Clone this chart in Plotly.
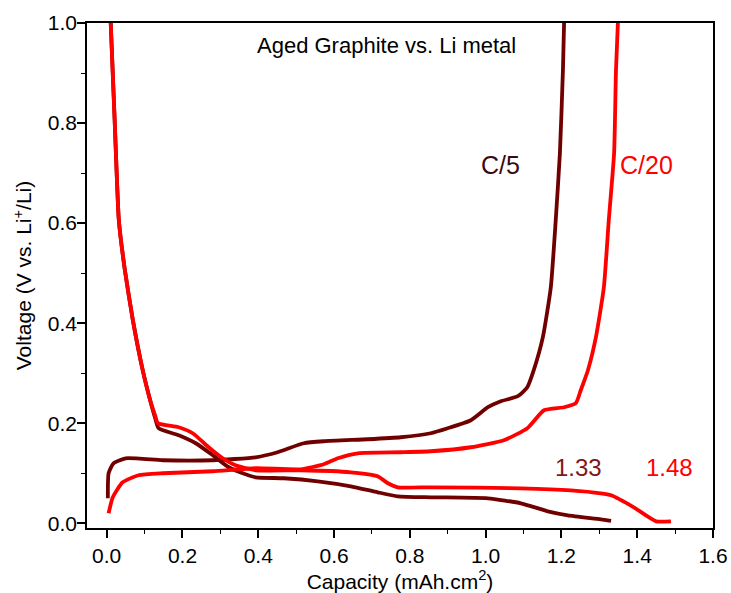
import plotly.graph_objects as go

# C/5 delithiation (charge)
c5_charge_x = [0.003, 0.005, 0.018, 0.05, 0.148, 0.28, 0.393, 0.451, 0.52, 0.573, 0.689, 0.776, 0.855,
               0.9, 0.961, 1.006, 1.04, 1.085, 1.11, 1.127, 1.151, 1.172, 1.185, 1.196, 1.204, 1.207]
c5_charge_y = [0.05, 0.10, 0.12, 0.13, 0.126, 0.126, 0.132, 0.142, 0.16, 0.164, 0.168, 0.172, 0.18,
               0.19, 0.206, 0.232, 0.244, 0.254, 0.272, 0.306, 0.372, 0.472, 0.606, 0.74, 0.906, 1.0]
# C/5 lithiation (discharge)
c5_dis_x = [0.0106, 0.021, 0.026, 0.032, 0.048, 0.069, 0.095, 0.115, 0.128, 0.137, 0.19, 0.235, 0.28,
            0.322, 0.359, 0.393, 0.467, 0.557, 0.644, 0.715, 0.768, 0.855, 1.006, 1.093, 1.164, 1.217,
            1.304, 1.331]
c5_dis_y = [1.0, 0.806, 0.706, 0.606, 0.506, 0.406, 0.306, 0.245, 0.21, 0.19, 0.176, 0.16, 0.136,
            0.112, 0.10, 0.092, 0.09, 0.084, 0.074, 0.062, 0.054, 0.052, 0.05, 0.04, 0.024, 0.016,
            0.008, 0.005]
# C/20 lithiation (discharge)
c20_dis_x = [0.0106, 0.021, 0.026, 0.032, 0.048, 0.069, 0.095, 0.115, 0.128, 0.135, 0.19, 0.227, 0.269,
             0.306, 0.34, 0.393, 0.512, 0.644, 0.715, 0.742, 0.768, 0.855, 1.093, 1.225, 1.304, 1.331,
             1.391, 1.45, 1.489]
c20_dis_y = [1.0, 0.806, 0.706, 0.606, 0.506, 0.406, 0.306, 0.245, 0.215, 0.2, 0.192, 0.18, 0.152,
             0.13, 0.116, 0.106, 0.106, 0.102, 0.094, 0.08, 0.072, 0.072, 0.07, 0.066, 0.06, 0.056,
             0.032, 0.004, 0.004]
# C/20 delithiation (charge)
c20_charge_x = [0.005, 0.016, 0.042, 0.084, 0.148, 0.28, 0.393, 0.512, 0.573, 0.61, 0.663, 0.776, 0.855,
                0.961, 1.048, 1.11, 1.154, 1.207, 1.238, 1.251, 1.27, 1.291, 1.312, 1.325, 1.339, 1.344,
                1.349]
c20_charge_y = [0.02, 0.052, 0.082, 0.096, 0.10, 0.104, 0.11, 0.108, 0.118, 0.13, 0.14, 0.142, 0.144,
                0.152, 0.166, 0.19, 0.226, 0.232, 0.24, 0.266, 0.306, 0.372, 0.472, 0.606, 0.74, 0.906,
                1.0]

DARK = "#700000"
RED = "#ff0000"
LW = 3.8

fig = go.Figure()
for xs, ys, col in [(c5_dis_x, c5_dis_y, DARK), (c5_charge_x, c5_charge_y, DARK),
                    (c20_dis_x, c20_dis_y, RED), (c20_charge_x, c20_charge_y, RED)]:
    fig.add_trace(go.Scatter(x=xs, y=ys, mode="lines",
                             line=dict(color=col, width=LW, shape="spline", smoothing=0.5),
                             showlegend=False, hoverinfo="skip"))

font = "Liberation Sans, Arial, sans-serif"
annos = [
    dict(x=0.739, y=0.956, text="Aged Graphite vs. Li metal", color="black", size=22),
    dict(x=1.038, y=0.716, text="C/5", color="#3a0a12", size=25),
    dict(x=1.425, y=0.716, text="C/20", color=RED, size=25),
    dict(x=1.246, y=0.112, text="1.33", color="#801818", size=24),
    dict(x=1.484, y=0.112, text="1.48", color=RED, size=24),
]
for a in annos:
    fig.add_annotation(x=a["x"], y=a["y"], xref="x", yref="y", text=a["text"], showarrow=False,
                       xanchor="center", yanchor="middle",
                       font=dict(family=font, size=a["size"], color=a["color"]))

axis_common = dict(showline=True, linecolor="black", linewidth=1.5, mirror=True, ticks="outside",
                   ticklen=8, tickwidth=1.5, tickcolor="black", showgrid=False, zeroline=False,
                   tickfont=dict(family=font, size=21, color="black"))

fig.update_xaxes(range=[-0.052, 1.6], dtick=0.2, tick0=0, tickformat=".1f",
                 minor=dict(ticks="outside", ticklen=4, dtick=0.1, tick0=0, tickcolor="black", tickwidth=1.2),
                 title=dict(text="Capacity (mAh.cm<sup>2</sup>)", font=dict(family=font, size=21, color="black"),
                            standoff=6),
                 **axis_common)
fig.update_yaxes(range=[-0.0094, 1.0], dtick=0.2, tick0=0, tickformat=".1f", ticklabelstandoff=-4,
                 minor=dict(ticks="outside", ticklen=4, dtick=0.1, tick0=0, tickcolor="black", tickwidth=1.2),
                 title=dict(text="Voltage (V vs. Li<sup>+</sup>/Li)", font=dict(family=font, size=21, color="black"),
                            standoff=10),
                 **axis_common)

fig.update_layout(width=731, height=593, margin=dict(l=87, r=18, t=23, b=65, autoexpand=False),
                  plot_bgcolor="white", paper_bgcolor="white")

fig.write_html("out.html")
